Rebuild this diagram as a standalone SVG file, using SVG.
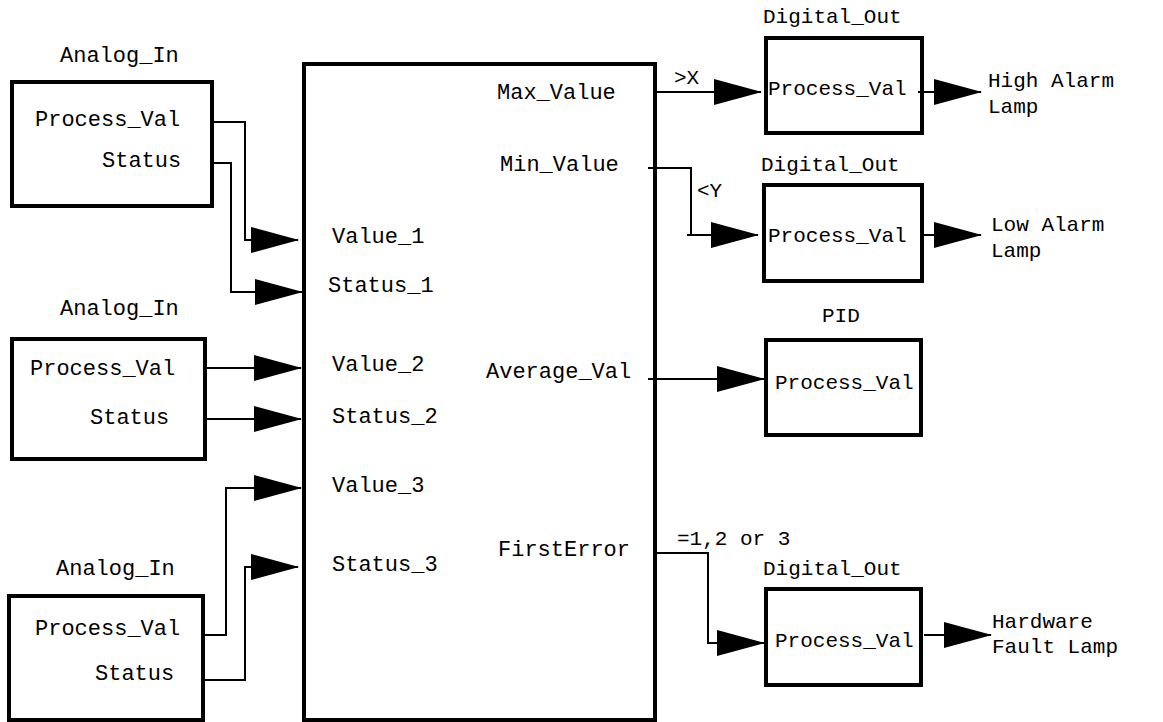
<svg xmlns="http://www.w3.org/2000/svg" width="1163" height="722" viewBox="0 0 1163 722">
<defs>
<style>
.box{fill:#fff;stroke:#000;stroke-width:4}
.wire{fill:none;stroke:#000;stroke-width:2;marker-end:url(#ah)}
text{font-family:"Liberation Mono","Courier New",monospace;font-size:22px;fill:#000}
.r text,text.r{font-size:21px}
</style>
<marker id="ah" viewBox="0 0 48 26" refX="47" refY="13" markerWidth="48" markerHeight="26" markerUnits="userSpaceOnUse" orient="auto">
<path d="M0,0 L48,13 L0,26 Z" fill="#000"/>
</marker>
</defs>
<rect width="1163" height="722" fill="#fff"/>
<g id="block">
<rect class="box" x="304" y="64" width="351" height="656"/>
<text x="497" y="99">Max_Value</text>
<text x="500" y="171">Min_Value</text>
<text x="332" y="243">Value_1</text>
<text x="328" y="292">Status_1</text>
<text x="332" y="371">Value_2</text>
<text x="486" y="378">Average_Val</text>
<text x="332" y="423">Status_2</text>
<text x="332" y="492">Value_3</text>
<text x="332" y="571">Status_3</text>
<text x="498" y="556">FirstError</text>
</g>
<g id="ai1">
<text x="60" y="62">Analog_In</text>
<rect class="box" x="12" y="82" width="200" height="124"/>
<text x="35" y="126">Process_Val</text>
<text x="102" y="167">Status</text>
</g>
<g id="ai2">
<text x="60" y="315">Analog_In</text>
<rect class="box" x="12" y="339" width="193" height="120"/>
<text x="30" y="375">Process_Val</text>
<text x="90" y="424">Status</text>
</g>
<g id="ai3">
<text x="56" y="575">Analog_In</text>
<rect class="box" x="9" y="596" width="194" height="124"/>
<text x="35" y="635">Process_Val</text>
<text x="95" y="680">Status</text>
</g>
<g id="do1" class="r">
<text x="763" y="23">Digital_Out</text>
<rect class="box" x="766" y="38" width="156" height="95"/>
<text x="768" y="95">Process_Val</text>
</g>
<g id="do2" class="r">
<text x="761" y="171">Digital_Out</text>
<rect class="box" x="764" y="185" width="158" height="96"/>
<text x="768" y="242">Process_Val</text>
</g>
<g id="pid" class="r">
<text x="822" y="322">PID</text>
<rect class="box" x="766" y="340" width="155" height="95"/>
<text x="775" y="389">Process_Val</text>
</g>
<g id="do3" class="r">
<text x="763" y="575">Digital_Out</text>
<rect class="box" x="766" y="589" width="155" height="96"/>
<text x="775" y="647">Process_Val</text>
</g>
<g id="lamps" class="r">
<text x="988" y="87">High Alarm</text>
<text x="988" y="113">Lamp</text>
<text x="991" y="231">Low Alarm</text>
<text x="991" y="257">Lamp</text>
<text x="992" y="628">Hardware</text>
<text x="992" y="653">Fault Lamp</text>
</g>
<g id="connectors">
<path class="wire" d="M213,122 H245 V240 H298"/>
<path class="wire" d="M213,163 H231 V292 H302"/>
<path class="wire" d="M206,368 H301"/>
<path class="wire" d="M206,419 H301"/>
<path class="wire" d="M205,635 H226 V488 H301"/>
<path class="wire" d="M205,680 H245 V567 H298"/>
<path class="wire" d="M655,92 H761"/>
<path class="wire" d="M648,168 H691 V235 M687,235 H758"/>
<path class="wire" d="M918,92 H981"/>
<path class="wire" d="M924,235 H981"/>
<path class="wire" d="M648,379 H764"/>
<path class="wire" d="M655,553 H708 V643 H764"/>
<path class="wire" d="M924,635 H991"/>
<text class="r" x="674" y="84">&gt;X</text>
<text class="r" x="697" y="197">&lt;Y</text>
<text class="r" x="677" y="545">=1,2 or 3</text>
</g>
</svg>
